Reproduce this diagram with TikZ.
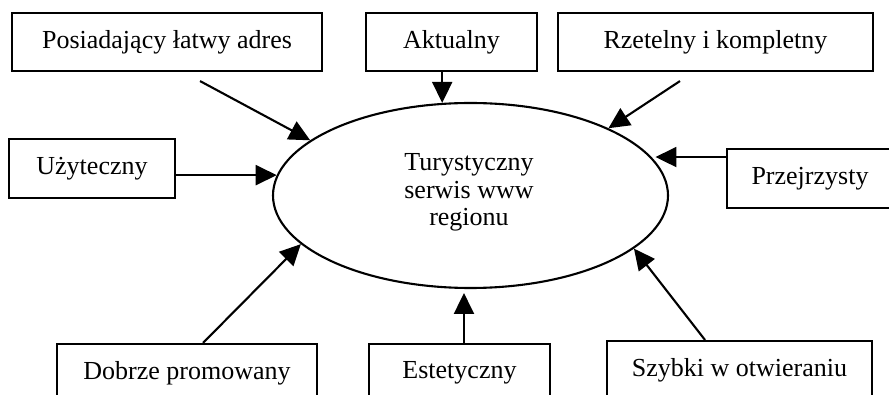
\documentclass[tikz,border=0pt]{standalone}
\usepackage{fontspec}
\setmainfont{Liberation Serif}
\usetikzlibrary{shapes.geometric,arrows.meta}
\begin{document}
\begin{tikzpicture}[x=1pt,y=-1pt,
  txt/.style={font=\fontsize{26}{27.5}\selectfont},
  box/.style={txt, draw, line width=2.1pt, rectangle, inner sep=0pt, minimum height=58pt},
  arr/.style={line width=2.1pt, -{Triangle[length=21pt,width=20pt]}},
]
\useasboundingbox (0,0) rectangle (889,395);
\clip (0,0) rectangle (889,395);

\node[box, minimum width=310pt] (p) at (167,42) {Posiadający łatwy adres};
\node[box, minimum width=171pt] (a) at (451.5,42) {Aktualny};
\node[box, minimum width=315pt] (r) at (715.5,42) {Rzetelny i kompletny};
\node[box, minimum width=166pt, minimum height=59pt] (u) at (92,168.5) {Użyteczny};
\node[box, minimum width=166pt, minimum height=59pt] (z) at (810,178.5) {Przejrzysty};
\node[box, minimum width=260pt] (d) at (187,373) {Dobrze promowany};
\node[box, minimum width=181pt] (e) at (459.5,373) {Estetyczny};
\node[box, minimum width=265pt] (s) at (739.5,370) {Szybki w otwieraniu};

\node[draw, ellipse, line width=2.1pt, minimum width=395pt, minimum height=185pt, inner sep=0pt] (c) at (470.5,195.5) {};
\node[txt, align=center] (ct) at (469,192.5) {Turystyczny\\serwis www\\regionu};

\draw[arr] ([shift={(33,9)}]p.south) -- (c.161.7);
\draw[arr] (a.south -| c.107.3) -- (c.107.3);
\draw[arr] ([shift={(-35.5,9)}]r.south) -- (c.26.3);
\draw[arr] (u.east |- c.174.5) -- (c.174.5);
\draw[arr, shorten >=4pt] (z.west |- c.12.85) -- (c.12.85);
\draw[arr] ([shift={(16,0)}]d.north) -- (c.196.9);
\draw[arr, shorten >=4pt] (e.north -| c.266) -- (c.266);
\draw[arr] ([shift={(-34.5,0)}]s.north) -- (c.342);
\end{tikzpicture}
\end{document}
